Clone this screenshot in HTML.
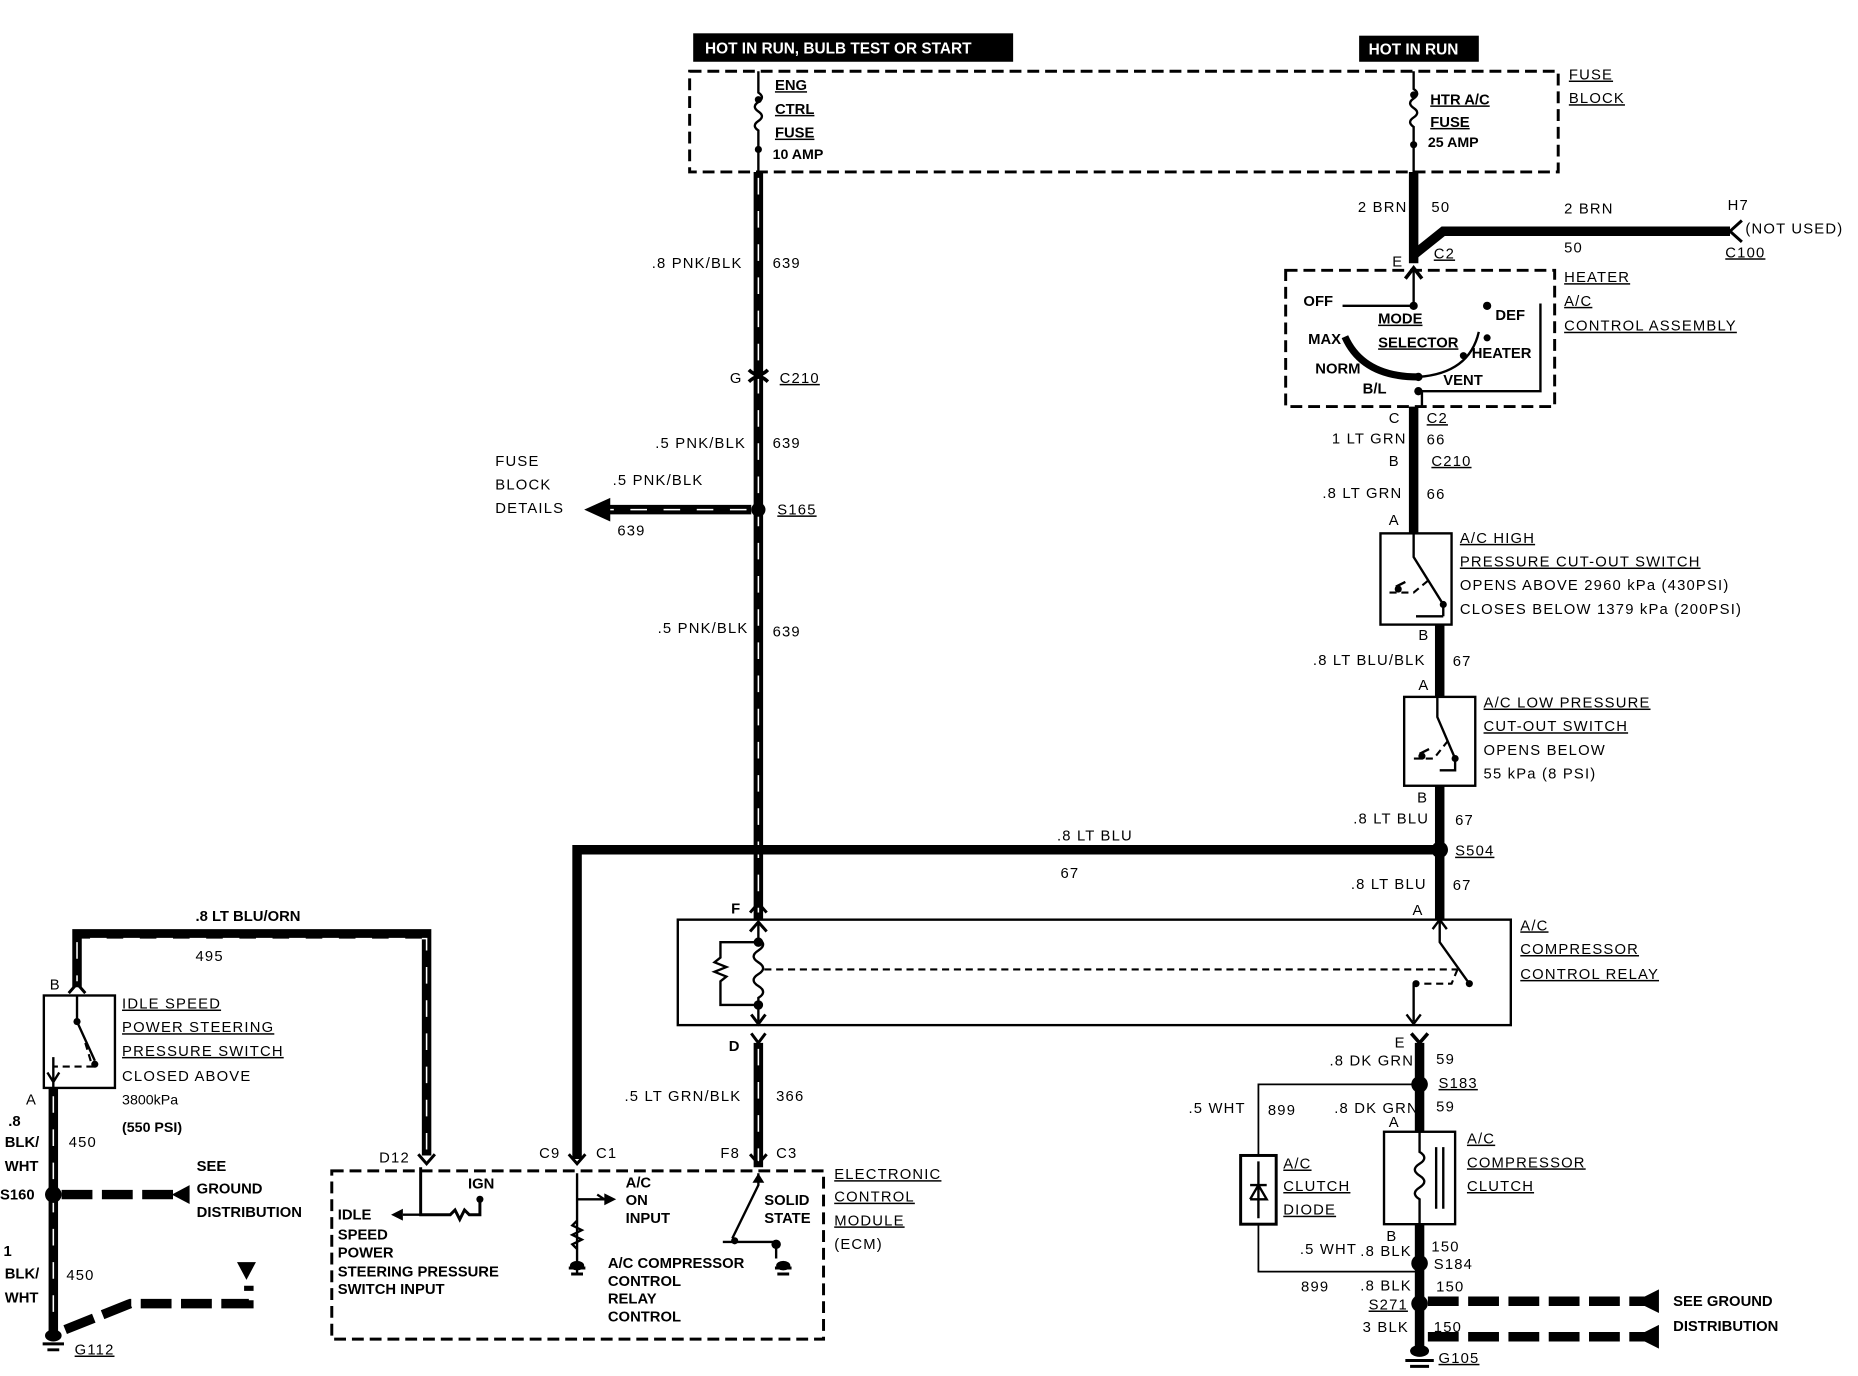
<!DOCTYPE html>
<html><head><meta charset="utf-8"><style>
html,body{margin:0;padding:0;background:#fff}
svg{display:block}
text{font-family:"Liberation Sans",sans-serif;font-size:12.5px;font-weight:bold;fill:#000}
.n{font-weight:normal;letter-spacing:1px}
.w{stroke:#000;stroke-width:8;fill:none}
.sw{stroke:#fff;stroke-width:1.3;stroke-dasharray:14 14;fill:none}
.t{stroke:#000;stroke-width:2;fill:none}
.db{stroke:#000;stroke-width:2.5;stroke-dasharray:10 5;fill:none}
.dd{stroke:#000;stroke-width:8;stroke-dasharray:26 8;fill:none}
.dl{stroke:#000;stroke-width:1.8;stroke-dasharray:6 4;fill:none}
</style></head><body>
<svg width="1858" height="1376" viewBox="0 0 1568 1161" xmlns="http://www.w3.org/2000/svg">
<!-- header boxes -->
<rect x="585" y="28" width="270" height="24" fill="#000"/>
<text x="595" y="45" style="fill:#fff;font-size:13px">HOT IN RUN, BULB TEST OR START</text>
<rect x="1147" y="30" width="101" height="22" fill="#000"/>
<text x="1155" y="46" style="fill:#fff;font-size:13px">HOT IN RUN</text>
<!-- fuse block -->
<rect x="582" y="60" width="733" height="85" class="db"/>
<path class="t" d="M640 60V78 q6 4 0 8 q-6 4 0 8 q6 4 0 8 q-6 4 0 8 V145"/>
<circle cx="640" cy="84" r="3"/><circle cx="640" cy="126" r="3"/>
<text x="654" y="76" text-decoration="underline">ENG</text>
<text x="654" y="96" text-decoration="underline">CTRL</text>
<text x="654" y="116" text-decoration="underline">FUSE</text>
<text x="652" y="134" style="font-size:12px">10 AMP</text>
<path class="t" d="M1193 60V75 q6 4 0 8 q-6 4 0 8 q6 4 0 8 q-6 4 0 8 V145"/>
<circle cx="1193" cy="80" r="3"/><circle cx="1193" cy="122" r="3"/>
<text x="1207" y="88" text-decoration="underline">HTR A/C</text>
<text x="1207" y="107" text-decoration="underline">FUSE</text>
<text x="1205" y="124" style="font-size:12px">25 AMP</text>
<text x="1324" y="67" class="n" text-decoration="underline">FUSE</text>
<text x="1324" y="87" class="n" text-decoration="underline">BLOCK</text>
<!-- left main striped wire -->
<path class="w" d="M640 145V775"/><path class="sw" d="M640 150V770"/>
<path class="t" d="M632 312 q8 8 16 0 M632 322 q8 -8 16 0" style="stroke-width:3"/>
<text x="550" y="226" class="n">.8 PNK/BLK</text><text x="652" y="226" class="n">639</text>
<text x="616" y="323" class="n">G</text><text x="658" y="323" class="n" text-decoration="underline">C210</text>
<text x="553" y="378" class="n">.5 PNK/BLK</text><text x="652" y="378" class="n">639</text>
<circle cx="640" cy="430" r="6"/>
<text x="656" y="434" class="n" text-decoration="underline">S165</text>
<path class="w" d="M634 430H508"/><path class="sw" d="M630 430H512"/>
<polygon points="493,430 515,420 515,440"/>
<text x="418" y="393" class="n">FUSE</text><text x="418" y="413" class="n">BLOCK</text><text x="418" y="433" class="n">DETAILS</text>
<text x="517" y="409" class="n">.5 PNK/BLK</text><text x="521" y="452" class="n">639</text>
<text x="555" y="534" class="n">.5 PNK/BLK</text><text x="652" y="537" class="n">639</text>
<!-- right wire top -->
<path class="w" d="M1193 145V222"/>
<path class="w" d="M1193 215 L1218 195 H1460"/>
<path class="t" d="M1470 186 L1460 195 L1470 204" style="stroke-width:2.5"/>
<text x="1146" y="179" class="n">2 BRN</text><text x="1208" y="179" class="n">50</text>
<text x="1320" y="180" class="n">2 BRN</text><text x="1320" y="213" class="n">50</text>
<text x="1458" y="177" class="n">H7</text><text x="1473" y="197" class="n">(NOT USED)</text>
<text x="1456" y="217" class="n" text-decoration="underline">C100</text>
<text x="1175" y="225" class="n">E</text><text x="1210" y="218" class="n" text-decoration="underline">C2</text>
<path class="t" d="M1186 235 L1193 226 L1200 235" style="stroke-width:3"/>
<!-- heater box -->
<rect x="1085" y="228" width="227" height="115" class="db"/>
<path class="t" d="M1193 228V260 M1133 258 H1193 M1255 260 V256 M1300 256 V330 H1200 M1200 330V343"/>
<circle cx="1193" cy="258" r="3.5"/><circle cx="1255" cy="258" r="3.5"/><circle cx="1255" cy="285" r="3"/>
<circle cx="1235" cy="300" r="3"/><circle cx="1197" cy="318" r="3.5"/><circle cx="1197" cy="330" r="3.5"/>
<path d="M1135 284 Q1150 318 1197 318" stroke="#000" stroke-width="6" fill="none"/>
<path class="t" d="M1197 318 Q1240 315 1248 280"/>
<text x="1100" y="258">OFF</text><text x="1104" y="290">MAX</text><text x="1110" y="315">NORM</text>
<text x="1150" y="332">B/L</text>
<text x="1163" y="273" text-decoration="underline">MODE</text><text x="1163" y="293" text-decoration="underline">SELECTOR</text>
<text x="1262" y="270">DEF</text><text x="1242" y="302">HEATER</text><text x="1218" y="325">VENT</text>
<text x="1320" y="238" class="n" text-decoration="underline">HEATER</text>
<text x="1320" y="258" class="n" text-decoration="underline">A/C</text>
<text x="1320" y="279" class="n" text-decoration="underline">CONTROL ASSEMBLY</text>
<!-- 1LT GRN wire -->
<path class="w" d="M1193 343V450"/>
<text x="1172" y="357" class="n">C</text><text x="1204" y="357" class="n" text-decoration="underline">C2</text>
<text x="1124" y="374" class="n">1 LT GRN</text><text x="1204" y="375" class="n">66</text>
<text x="1172" y="393" class="n">B</text><text x="1208" y="393" class="n" text-decoration="underline">C210</text>
<text x="1116" y="420" class="n">.8 LT GRN</text><text x="1204" y="421" class="n">66</text>
<text x="1172" y="443" class="n">A</text>
<!-- HP switch -->
<rect x="1165" y="450" width="60" height="77" class="t"/>
<path class="t" d="M1193 450V470 L1218 510 V520 M1218 520H1195 M1178 495 l8 -4"/>
<path class="dl" d="M1205 490 L1193 500 H1170"/><circle cx="1218" cy="510" r="3"/><circle cx="1180" cy="497" r="3"/>
<text x="1232" y="458" class="n" text-decoration="underline">A/C HIGH</text>
<text x="1232" y="478" class="n" text-decoration="underline">PRESSURE CUT-OUT SWITCH</text>
<text x="1232" y="498" class="n">OPENS ABOVE 2960 kPa (430PSI)</text>
<text x="1232" y="518" class="n">CLOSES BELOW 1379 kPa (200PSI)</text>
<path class="w" d="M1215 527V588"/>
<text x="1197" y="540" class="n">B</text>
<text x="1108" y="561" class="n">.8 LT BLU/BLK</text><text x="1226" y="562" class="n">67</text>
<text x="1197" y="582" class="n">A</text>
<!-- LP switch -->
<rect x="1185" y="588" width="60" height="75" class="t"/>
<path class="t" d="M1213 588V605 L1228 640 V650 H1215 M1198 636 l8 -4"/>
<path class="dl" d="M1222 625 L1210 640 H1190"/><circle cx="1228" cy="640" r="3"/><circle cx="1200" cy="638" r="3"/>
<text x="1252" y="597" class="n" text-decoration="underline">A/C LOW PRESSURE</text>
<text x="1252" y="617" class="n" text-decoration="underline">CUT-OUT SWITCH</text>
<text x="1252" y="637" class="n">OPENS BELOW</text>
<text x="1252" y="657" class="n">55 kPa (8 PSI)</text>
<path class="w" d="M1215 663V775"/>
<text x="1196" y="677" class="n">B</text>
<text x="1142" y="695" class="n">.8 LT BLU</text><text x="1228" y="696" class="n">67</text>
<circle cx="1215" cy="717" r="7"/>
<text x="1228" y="722" class="n" text-decoration="underline">S504</text>
<text x="1140" y="750" class="n">.8 LT BLU</text><text x="1226" y="751" class="n">67</text>
<text x="1192" y="772" class="n">A</text>
<!-- LT BLU horizontal -->
<path class="w" d="M1210 717H487V978"/>
<text x="892" y="709" class="n">.8 LT BLU</text><text x="895" y="741" class="n">67</text>
<!-- relay -->
<rect x="572" y="776" width="703" height="89" class="t"/>
<text x="617" y="771">F</text><text x="615" y="887">D</text>
<path class="t" d="M633 770 L640 762 L647 770 M633 786 L640 778 L647 786" style="stroke-width:2.5"/>
<path class="t" d="M640 778V792 q8 5 0 10 q-8 5 0 10 q8 5 0 10 q-8 5 0 10 q8 5 0 10 V862"/>
<circle cx="640" cy="795" r="4"/><circle cx="640" cy="848" r="4"/>
<path class="t" d="M640 795H608V808 l-5 4 l10 4 l-10 4 l10 4 l-5 4 V848 H640"/>
<path class="dl" d="M645 818H1230"/>
<path class="t" d="M634 856 L640 864 L646 856 M634 872 L640 880 L646 872" style="stroke-width:2.5"/>
<path class="t" d="M1215 776V795 L1240 830 M1209 784 L1215 776 L1221 784 M1193 830 V862 M1187 856 L1193 864 L1199 856"/>
<path class="dl" d="M1230 818 L1225 830 H1200"/><circle cx="1240" cy="830" r="3"/><circle cx="1195" cy="830" r="3"/>
<text x="1283" y="785" class="n" text-decoration="underline">A/C</text>
<text x="1283" y="805" class="n" text-decoration="underline">COMPRESSOR</text>
<text x="1283" y="826" class="n" text-decoration="underline">CONTROL RELAY</text>
<!-- 366 wire -->
<path class="w" d="M640 880V985"/><path class="sw" d="M640 885V980"/>
<text x="527" y="929" class="n">.5 LT GRN/BLK</text><text x="655" y="929" class="n">366</text>
<!-- right lower -->
<path class="t" d="M1191 872 L1198 880 L1205 872" style="stroke-width:3"/>
<text x="1177" y="884" class="n">E</text>
<path class="w" d="M1198 880V955 M1198 1033V1140"/>
<text x="1122" y="899" class="n">.8 DK GRN</text><text x="1212" y="898" class="n">59</text>
<circle cx="1198" cy="915" r="7"/>
<text x="1214" y="918" class="n" text-decoration="underline">S183</text>
<text x="1126" y="939" class="n">.8 DK GRN</text><text x="1212" y="938" class="n">59</text>
<text x="1172" y="951" class="n">A</text>
<path class="t" d="M1198 915H1062V975 M1062 1033V1073H1198" style="stroke-width:1.5"/>
<text x="1003" y="939" class="n">.5 WHT</text><text x="1070" y="941" class="n">899</text>
<rect x="1047" y="975" width="30" height="58" class="t" style="stroke-width:2.5"/>
<path class="t" d="M1062 980V1028 M1055 1000 H1069 M1055 1012 H1069 L1062 1000 L1055 1012"/>
<text x="1083" y="986" class="n" text-decoration="underline">A/C</text>
<text x="1083" y="1005" class="n" text-decoration="underline">CLUTCH</text>
<text x="1083" y="1025" class="n" text-decoration="underline">DIODE</text>
<rect x="1168" y="955" width="60" height="78" class="t"/>
<path class="t" d="M1198 955V972 q8 5 0 10 q-8 5 0 10 q8 5 0 10 q-8 5 0 10 V1033 M1212 968V1020 M1218 968V1020"/>
<text x="1238" y="965" class="n" text-decoration="underline">A/C</text>
<text x="1238" y="985" class="n" text-decoration="underline">COMPRESSOR</text>
<text x="1238" y="1005" class="n" text-decoration="underline">CLUTCH</text>
<text x="1170" y="1047" class="n">B</text>
<text x="1097" y="1058" class="n">.5 WHT</text><text x="1148" y="1060" class="n">.8 BLK</text><text x="1208" y="1056" class="n">150</text>
<circle cx="1198" cy="1066" r="7"/><text x="1210" y="1071" class="n">S184</text>
<text x="1098" y="1090" class="n">899</text><text x="1148" y="1089" class="n">.8 BLK</text><text x="1212" y="1090" class="n">150</text>
<circle cx="1198" cy="1100" r="7"/>
<text x="1155" y="1105" class="n" text-decoration="underline">S271</text>
<text x="1150" y="1124" class="n">3 BLK</text><text x="1210" y="1124" class="n">150</text>
<path class="dd" d="M1205 1098H1390 M1205 1128H1390"/>
<polygon points="1380,1098 1400,1088 1400,1108"/><polygon points="1380,1128 1400,1118 1400,1138"/>
<text x="1412" y="1102">SEE GROUND</text><text x="1412" y="1123">DISTRIBUTION</text>
<ellipse cx="1198" cy="1140" rx="8" ry="5"/>
<path class="t" d="M1186 1148H1210 M1190 1153H1206" style="stroke-width:2.5"/>
<text x="1214" y="1150" class="n" text-decoration="underline">G105</text>
<!-- ECM -->
<rect x="280" y="988" width="415" height="142" class="db"/>
<path class="t" d="M355 985V1025H380 l4 -4 l4 8 l4 -8 l4 4 H405V1012 M353 974 L360 982 L367 974 M480 974 L487 982 L494 974 M633 974 L640 982 L647 974" style="stroke-width:2.5"/>
<polygon points="330,1025 340,1020 340,1030"/><path class="t" d="M340 1025H355"/>
<circle cx="405" cy="1012" r="3"/>
<path class="t" d="M487 990V1075 M487 1012H510 l-6 -4 M487 1030 l-4 4 l8 4 l-8 4 l8 4 l-8 4 l4 4"/>
<polygon points="520,1012 510,1007 510,1017"/>
<path class="t" d="M640 990V1000 L618 1045 M610 1048 H655 V1062"/>
<polygon points="640,990 635,998 645,998"/>
<circle cx="620" cy="1047" r="3"/><circle cx="655" cy="1050" r="4"/>
<path class="t" d="M480 1070H494 M482 1075H492" style="stroke-width:2.5"/><ellipse cx="487" cy="1068" rx="6" ry="4"/>
<path class="t" d="M654 1070H668 M656 1075H666" style="stroke-width:2.5"/><ellipse cx="661" cy="1068" rx="6" ry="4"/>
<text x="320" y="981" class="n">D12</text><text x="455" y="977" class="n">C9</text><text x="503" y="977" class="n">C1</text>
<text x="608" y="977" class="n">F8</text><text x="655" y="977" class="n">C3</text>
<text x="395" y="1003">IGN</text>
<text x="285" y="1029">IDLE</text><text x="285" y="1046">SPEED</text><text x="285" y="1061">POWER</text>
<text x="285" y="1077">STEERING PRESSURE</text><text x="285" y="1092">SWITCH INPUT</text>
<text x="528" y="1002">A/C</text><text x="528" y="1017">ON</text><text x="528" y="1032">INPUT</text>
<text x="645" y="1017">SOLID</text><text x="645" y="1032">STATE</text>
<text x="513" y="1070">A/C COMPRESSOR</text><text x="513" y="1085">CONTROL</text>
<text x="513" y="1100">RELAY</text><text x="513" y="1115">CONTROL</text>
<text x="704" y="995" class="n" text-decoration="underline">ELECTRONIC</text>
<text x="704" y="1014" class="n" text-decoration="underline">CONTROL</text>
<text x="704" y="1034" class="n" text-decoration="underline">MODULE</text>
<text x="704" y="1054" class="n">(ECM)</text>
<!-- left side -->
<path class="w" d="M360 975V788H65V833"/><path class="sw" d="M360 970V792H65V828"/>
<text x="165" y="777">.8 LT BLU/ORN</text><text x="165" y="811" class="n">495</text>
<text x="42" y="835" class="n">B</text>
<path class="t" d="M58 838 L65 830 L72 838" style="stroke-width:2.5"/>
<rect x="37" y="840" width="60" height="78" class="t"/>
<path class="t" d="M65 840V862 L80 895 M45 892V918 M40 905 l5 8 l5 -8"/>
<path class="dl" d="M72 880 L78 900 H45"/><circle cx="80" cy="898" r="3"/><circle cx="65" cy="862" r="3"/>
<text x="103" y="851" class="n" text-decoration="underline">IDLE SPEED</text>
<text x="103" y="871" class="n" text-decoration="underline">POWER STEERING</text>
<text x="103" y="891" class="n" text-decoration="underline">PRESSURE SWITCH</text>
<text x="103" y="912" class="n">CLOSED ABOVE</text>
<text x="103" y="932" style="font-weight:normal;font-size:12px">3800kPa</text>
<text x="103" y="955" style="font-size:12px">(550 PSI)</text>
<path class="w" d="M45 918V1125"/><path class="sw" d="M45 925V1120"/>
<text x="22" y="932" class="n">A</text>
<text x="7" y="950">.8</text><text x="4" y="968">BLK/</text><text x="4" y="988">WHT</text>
<text x="58" y="968" class="n">450</text>
<circle cx="45" cy="1008" r="7"/><text x="0" y="1012">S160</text>
<path class="dd" d="M52 1008H150"/><polygon points="145,1008 160,1000 160,1016"/>
<text x="166" y="988">SEE</text><text x="166" y="1007">GROUND</text><text x="166" y="1027">DISTRIBUTION</text>
<text x="3" y="1060">1</text><text x="4" y="1079">BLK/</text><text x="4" y="1099">WHT</text>
<text x="56" y="1080" class="n">450</text>
<path class="dd" d="M55 1122 L110 1100 H210 V1085"/>
<polygon points="200,1065 216,1065 208,1080"/>
<ellipse cx="45" cy="1127" rx="7" ry="5"/>
<path class="t" d="M36 1134H54 M40 1139H50" style="stroke-width:2.5"/>
<text x="63" y="1143" class="n" text-decoration="underline">G112</text>
</svg>
</body></html>
